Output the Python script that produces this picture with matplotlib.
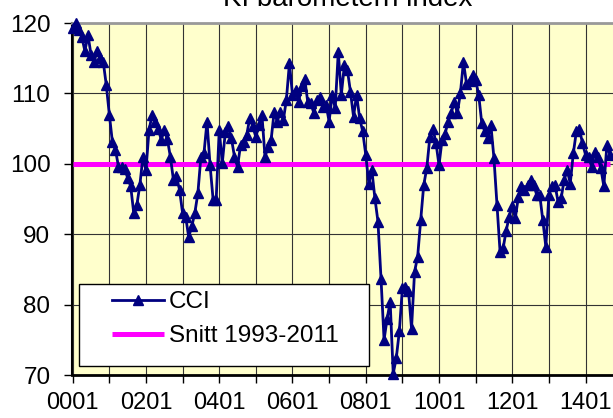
import matplotlib
matplotlib.use("Agg")
import matplotlib.pyplot as plt
from matplotlib.patches import Rectangle
from matplotlib.ticker import FixedLocator

plt.rcParams['font.family'] = ['Liberation Sans', 'DejaVu Sans']

# KI barometer, consumer confidence indicator, monthly from 2000-01
cci = [
    119.3, 120.0, 119.0, 118.0, 116.0, 118.3, 115.5, 114.5, 116.0, 115.0, 114.5, 111.2,
    107.0, 103.1, 102.0, 99.6, 99.5, 99.3, 98.0, 96.8, 93.0, 94.1, 97.0, 101.0,
    99.1, 104.8, 106.9, 106.0, 105.0, 103.4, 104.8, 103.5, 101.0, 97.7, 98.2, 96.3,
    93.0, 92.5, 89.6, 91.1, 93.0, 95.8, 101.0, 101.5, 106.0, 99.8, 94.9, 94.9,
    104.8, 100.1, 104.5, 105.3, 103.6, 101.0, 99.6, 102.7, 103.1, 104.1, 106.5, 105.3,
    103.8, 105.5, 106.9, 101.0, 102.4, 103.4, 107.4, 106.0, 107.4, 106.2, 109.1, 114.3,
    109.8, 110.5, 108.8, 111.0, 112.1, 108.8, 108.6, 107.2, 109.1, 109.5, 108.1, 108.4,
    106.0, 109.8, 107.9, 115.9, 109.8, 114.0, 113.3, 110.2, 106.7, 109.8, 106.5, 104.6,
    101.3, 97.2, 99.1, 95.1, 91.8, 83.7, 75.0, 78.0, 80.4, 70.2, 72.4, 76.2,
    82.3, 82.5, 82.0, 76.6, 84.7, 86.8, 92.0, 97.0, 99.4, 103.8, 105.0, 103.0,
    99.8, 103.4, 104.3, 106.0, 107.2, 108.8, 107.2, 110.0, 114.5, 111.4, 111.7, 112.6,
    111.9, 109.8, 105.8, 104.6, 103.6, 105.5, 100.8, 94.1, 87.5, 88.0, 90.5, 92.5,
    94.0, 92.3, 95.3, 96.8, 96.3, 97.0, 97.7, 97.0, 95.6, 95.6, 92.0, 88.2,
    95.6, 96.8, 97.0, 94.6, 95.1, 97.7, 99.1, 97.2, 101.5, 104.6, 105.0, 102.9,
    101.3, 101.0, 99.6, 101.7, 101.0, 99.4, 96.8, 102.7, 101.3,
]
months = [f"{y:02d}{m:02d}" for y in range(0, 15) for m in range(1, 13)][:len(cci)]
snitt = [100.0] * len(cci)   # average 1993-2011

tick_labels = ['0001', '0201', '0401', '0601', '0801', '1001', '1201', '1401']
y_ticks = [70, 80, 90, 100, 110, 120]

fig = plt.figure(figsize=(6.13, 4.18), dpi=100)
ax = fig.add_axes([72 / 613, 1 - 375 / 418, 1 - 72 / 613, 352 / 418])
ax.set_facecolor('#FFFFCC')

x = list(range(len(months)))
ax.plot(x, snitt, color='#FF00FF', lw=3.6, solid_capstyle='butt', zorder=3,
        label='Snitt 1993-2011')
ax.plot(x, cci, color='#000080', lw=2.0, marker='^', markersize=7.5,
        zorder=4, clip_on=False, label='CCI')

ax.set_xlim(-0.23, 177)
ax.set_ylim(70, 120)

major = [months.index(t) for t in tick_labels]
ax.xaxis.set_major_locator(FixedLocator(major))
ax.xaxis.set_minor_locator(FixedLocator([m + 12 for m in major]))
ax.set_xticklabels(tick_labels)
ax.set_yticks(y_ticks)

ax.grid(True, which='both', color='#333333', lw=0.8)
ax.set_axisbelow(True)
ax.tick_params(axis='x', which='both', length=6, width=1, pad=6, labelsize=17)
ax.tick_params(axis='y', length=5.5, width=1, pad=10, labelsize=17.5)

ax.spines['right'].set_visible(False)
ax.spines['top'].set_color('#999999')
ax.spines['top'].set_linewidth(2)
ax.spines['left'].set_linewidth(1.5)
ax.spines['bottom'].set_linewidth(2)

# legend box
ax.add_patch(Rectangle((7 / 541, 9 / 352), 290 / 541, 82 / 352, transform=ax.transAxes,
                       facecolor='white', edgecolor='black', lw=1, zorder=5))
h, l = ax.get_legend_handles_labels()
leg = ax.legend(h[::-1], l[::-1], loc='upper left', bbox_to_anchor=(40 / 541, 84 / 352),
                frameon=False, borderpad=0, borderaxespad=0, fontsize=17.5,
                handlelength=2.15, handletextpad=0.2, labelspacing=0.5)
leg.set_zorder(6)

fig.text(348 / 613, 1 - 6 / 418, 'KI barometern index', ha='center', va='baseline',
         fontsize=20)

fig.savefig('out.png', dpi=100)
